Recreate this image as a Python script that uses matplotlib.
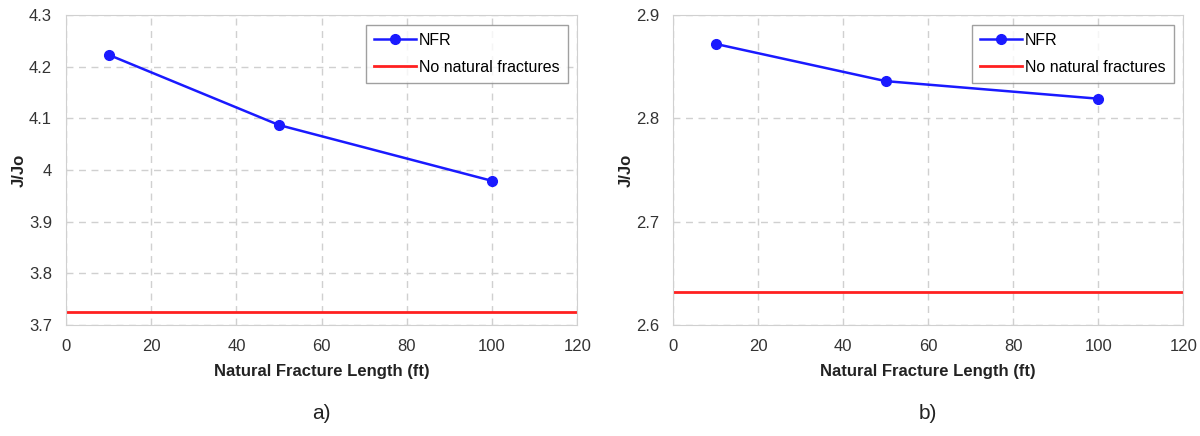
import matplotlib.pyplot as plt

plt.rcParams['font.family'] = ['Liberation Sans', 'DejaVu Sans']

# Data
nfr_length = [10, 50, 100]
jjo_a = [4.223, 4.087, 3.979]
base_a = 3.725
jjo_b = [2.872, 2.836, 2.819]
base_b = 2.632

x_ticks = [0, 20, 40, 60, 80, 100, 120]
yticks_a = [3.7, 3.8, 3.9, 4.0, 4.1, 4.2, 4.3]
ylabels_a = ['3.7', '3.8', '3.9', '4', '4.1', '4.2', '4.3']
yticks_b = [2.6, 2.7, 2.8, 2.9]
ylabels_b = ['2.6', '2.7', '2.8', '2.9']


def draw_panel(ax, y, base, yticks, ylabels, tag):
    ax.plot(nfr_length, y, color='#1a1aff', marker='o', markersize=7,
            linewidth=1.8, label='NFR')
    ax.axhline(base, color='#ff2020', linewidth=2, label='No natural fractures')
    ax.set_xlim(0, 120)
    ax.set_ylim(yticks[0], yticks[-1])
    ax.set_xticks(x_ticks)
    ax.set_yticks(yticks)
    ax.set_yticklabels(ylabels)
    ax.tick_params(axis='x', length=0, labelsize=12, colors='#333333', pad=10)
    ax.tick_params(axis='y', length=0, labelsize=12, colors='#333333', pad=10)
    ax.grid(True, color='#d0d0d0', linestyle=(0, (5, 4)), linewidth=1)
    for s in ax.spines.values():
        s.set_color('#d0d0d0')
    ax.set_xlabel('Natural Fracture Length (ft)', fontsize=12, fontweight='bold',
                  color='#222222', labelpad=7)
    ax.set_ylabel('J/Jo', fontsize=12, fontweight='bold', color='#222222', labelpad=2)
    leg = ax.legend(loc='upper right', fontsize=11.5, frameon=True, fancybox=False,
                    edgecolor='#888888', handlelength=2.6, handletextpad=0.2,
                    borderaxespad=0.6, labelspacing=0.75, borderpad=0.5)
    leg.get_frame().set_linewidth(1)
    ax.text(0.5, -0.284, tag, transform=ax.transAxes, ha='center', va='center',
            fontsize=15, color='#222222')


fig = plt.figure(figsize=(12, 4.36), dpi=100)
ax1 = fig.add_axes([0.055, 0.2546, 0.426, 0.711])
ax2 = fig.add_axes([0.561, 0.2546, 0.425, 0.711])

draw_panel(ax1, jjo_a, base_a, yticks_a, ylabels_a, 'a)')
draw_panel(ax2, jjo_b, base_b, yticks_b, ylabels_b, 'b)')

fig.savefig('out.png', dpi=100)
